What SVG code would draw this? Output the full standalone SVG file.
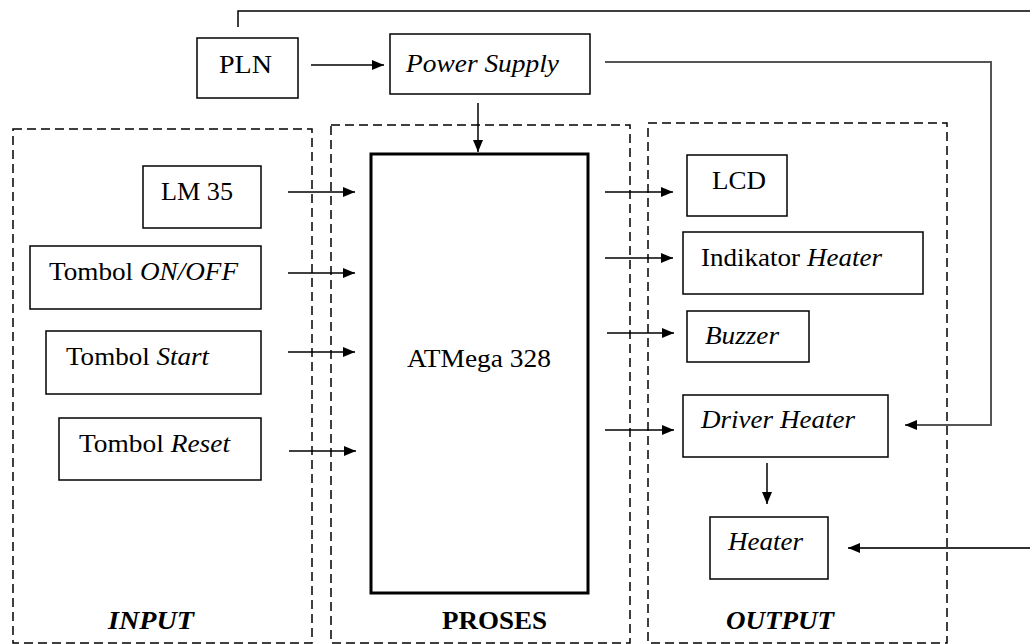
<svg xmlns="http://www.w3.org/2000/svg" width="1030" height="644" viewBox="0 0 1030 644">
<defs>
<marker id="ah" markerWidth="12" markerHeight="10" refX="12" refY="5" orient="auto" markerUnits="userSpaceOnUse">
<path d="M0,0 L12,5 L0,10 Z" fill="#000"/>
</marker>
<style>
.box{fill:#fff;stroke:#000;stroke-width:1.5}
.grp{fill:none;stroke:#000;stroke-width:1.5;stroke-dasharray:9 5}
.t{font-family:"Liberation Serif","Times New Roman",serif;font-size:26px;fill:#000}
.i{font-style:italic}
.lbl{font-family:"Liberation Serif","Times New Roman",serif;font-size:26px;font-weight:bold;fill:#000}
.c{fill:none;stroke:#000;stroke-width:1.5}
</style>
</defs>
<rect width="1030" height="644" fill="#fff"/>
<g id="groups">
<rect id="grp-input" class="grp" x="13" y="129" width="299" height="514"/>
<rect id="grp-proses" class="grp" x="331" y="125" width="299" height="518"/>
<rect id="grp-output" class="grp" x="648" y="123" width="299" height="520"/>
<text class="lbl i" x="108" y="629" textLength="86" lengthAdjust="spacingAndGlyphs">INPUT</text>
<text class="lbl" x="442" y="629" textLength="105" lengthAdjust="spacingAndGlyphs">PROSES</text>
<text class="lbl i" x="726" y="629" textLength="108" lengthAdjust="spacingAndGlyphs">OUTPUT</text>
</g>
<g id="connectors">
<polyline class="c" points="238,27 238,11 1030,11"/>
<line class="c" x1="311" y1="65" x2="384" y2="65" marker-end="url(#ah)"/>
<line class="c" x1="478" y1="103" x2="478" y2="152" marker-end="url(#ah)"/>
<polyline points="605,62 991,62 991,425 905,425" fill="none" stroke="#555" stroke-width="2" marker-end="url(#ah)"/>
<line class="c" x1="288" y1="192" x2="355" y2="192" marker-end="url(#ah)"/>
<line class="c" x1="288" y1="273" x2="355" y2="273" marker-end="url(#ah)"/>
<line class="c" x1="288" y1="352" x2="355" y2="352" marker-end="url(#ah)"/>
<line class="c" x1="289" y1="451" x2="356" y2="451" marker-end="url(#ah)"/>
<line class="c" x1="605" y1="192" x2="673" y2="192" marker-end="url(#ah)"/>
<line class="c" x1="605" y1="258" x2="673" y2="258" marker-end="url(#ah)"/>
<line class="c" x1="607" y1="333" x2="674" y2="333" marker-end="url(#ah)"/>
<line class="c" x1="605" y1="430" x2="674" y2="430" marker-end="url(#ah)"/>
<line class="c" x1="767" y1="463" x2="767" y2="504" marker-end="url(#ah)"/>
<line x1="1030" y1="548" x2="848" y2="548" stroke="#333" stroke-width="2" marker-end="url(#ah)"/>
</g>
<g id="pln"><rect class="box" x="197" y="38" width="101" height="60"/><text class="t" x="219" y="73" textLength="53" lengthAdjust="spacingAndGlyphs">PLN</text></g>
<g id="power-supply"><rect class="box" x="390" y="34" width="200" height="60"/><text class="t i" x="406" y="72" textLength="153" lengthAdjust="spacingAndGlyphs">Power Supply</text></g>
<g id="atmega"><rect x="371" y="154" width="217" height="439" fill="#fff" stroke="#000" stroke-width="3"/><text class="t" x="407" y="367" textLength="144" lengthAdjust="spacingAndGlyphs">ATMega 328</text></g>
<g id="lm35"><rect class="box" x="143" y="166" width="118" height="62"/><text class="t" x="161" y="200" textLength="72" lengthAdjust="spacingAndGlyphs">LM 35</text></g>
<g id="onoff"><rect class="box" x="30" y="246" width="231" height="63"/><text class="t" x="49" y="280" textLength="189" lengthAdjust="spacingAndGlyphs">Tombol <tspan class="i">ON/OFF</tspan></text></g>
<g id="start"><rect class="box" x="46" y="331" width="215" height="63"/><text class="t" x="66" y="365" textLength="143" lengthAdjust="spacingAndGlyphs">Tombol <tspan class="i">Start</tspan></text></g>
<g id="reset"><rect class="box" x="59" y="418" width="202" height="62"/><text class="t" x="79" y="452" textLength="151" lengthAdjust="spacingAndGlyphs">Tombol <tspan class="i">Reset</tspan></text></g>
<g id="lcd"><rect class="box" x="687" y="155" width="100" height="61"/><text class="t" x="712" y="189" textLength="54" lengthAdjust="spacingAndGlyphs">LCD</text></g>
<g id="indikator"><rect class="box" x="683" y="232" width="240" height="62"/><text class="t" x="701" y="266" textLength="181" lengthAdjust="spacingAndGlyphs">Indikator <tspan class="i">Heater</tspan></text></g>
<g id="buzzer"><rect class="box" x="687" y="311" width="122" height="51"/><text class="t i" x="705" y="344" textLength="74" lengthAdjust="spacingAndGlyphs">Buzzer</text></g>
<g id="driver"><rect class="box" x="683" y="395" width="205" height="62"/><text class="t i" x="701" y="428" textLength="154" lengthAdjust="spacingAndGlyphs">Driver Heater</text></g>
<g id="heater"><rect class="box" x="710" y="517" width="118" height="62"/><text class="t i" x="728" y="550" textLength="75" lengthAdjust="spacingAndGlyphs">Heater</text></g>
</svg>
